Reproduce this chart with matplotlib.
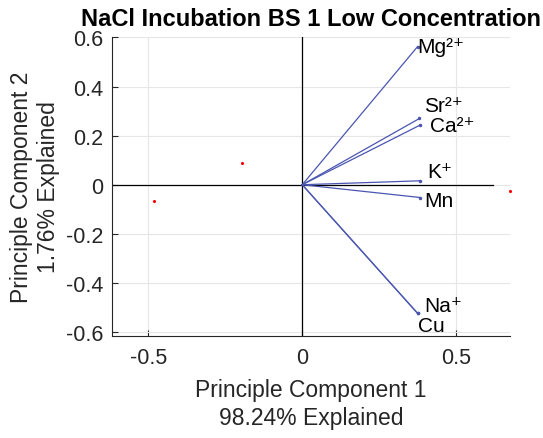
import matplotlib
matplotlib.use("Agg")
import matplotlib.pyplot as plt
import numpy as np

plt.rcParams['font.family'] = ['Liberation Sans', 'DejaVu Sans']

# ---------- Data ----------
variables = ["Mg²⁺", "Sr²⁺", "Ca²⁺", "K⁺", "Mn", "Na⁺", "Cu"]
load_pc1 = [0.375, 0.381, 0.383, 0.383, 0.383, 0.375, 0.375]
load_pc2 = [0.563, 0.270, 0.243, 0.016, -0.052, -0.524, -0.524]

score_pc1 = [0.675, -0.197, -0.483]
score_pc2 = [-0.025, 0.088, -0.068]

explained = [98.24, 1.76]

# label nudges (points) so overlapping names stay readable
label_dx = [0, 3, 7, 5, 3, 5, 0]
label_dy = [0, 9, 0, 7, -2, 6, -9]

vec_color = '#4a56b0'
axis_col = '#262626'

fig = plt.figure(figsize=(5.43, 4.39), dpi=100)
ax = fig.add_axes([0.2057, 0.233, 0.7335, 0.680])

# origin axis lines
ax.plot([-0.62, 0.62], [0, 0], color='black', lw=0.9, zorder=2)
ax.plot([0, 0], [-0.62, 0.62], color='black', lw=0.9, zorder=2)

# loading vectors
for x, y in zip(load_pc1, load_pc2):
    ax.plot([0, x], [0, y], color=vec_color, lw=0.9, zorder=3)
    ax.plot(x, y, '.', color=vec_color, ms=3, zorder=3)

for name, x, y, dx, dy in zip(variables, load_pc1, load_pc2, label_dx, label_dy):
    ax.annotate(name, (x, y), xytext=(dx, dy), textcoords='offset points',
                ha='left', va='center', fontsize=15, color='black')

# observation scores
ax.plot(score_pc1, score_pc2, '.', color='red', ms=2.5, zorder=4, clip_on=False)

ax.set_xlim(-0.619, 0.675)
ax.set_ylim(-0.615, 0.601)
ax.set_xticks([-0.5, 0, 0.5])
ax.set_yticks(np.round(np.arange(-0.6, 0.61, 0.2), 1))
ax.set_xticklabels(["-0.5", "0", "0.5"])
ax.set_yticklabels(["-0.6", "-0.4", "-0.2", "0", "0.2", "0.4", "0.6"])
ax.grid(True, color='#e6e6e6', lw=0.8)
ax.set_axisbelow(True)

for side in ['top', 'right']:
    ax.spines[side].set_visible(False)
for side in ['left', 'bottom']:
    ax.spines[side].set_color(axis_col)
    ax.spines[side].set_linewidth(0.8)
ax.tick_params(direction='in', length=4, width=0.8, colors=axis_col,
               labelsize=15.5, labelcolor=axis_col)
ax.tick_params(axis='x', pad=8)
ax.tick_params(axis='y', pad=6)

ax.set_xlabel(f"Principle Component 1\n{explained[0]:.2f}% Explained",
              fontsize=16.5, color=axis_col, labelpad=7, linespacing=1.3)
ax.set_ylabel(f"Principle Component 2\n{explained[1]:.2f}% Explained",
              fontsize=16.5, color=axis_col, labelpad=4, linespacing=1.25)
ax.set_title("NaCl Incubation BS 1 Low Concentration", fontsize=17,
             fontweight='bold', pad=9)

fig.savefig("out.png", dpi=100)
